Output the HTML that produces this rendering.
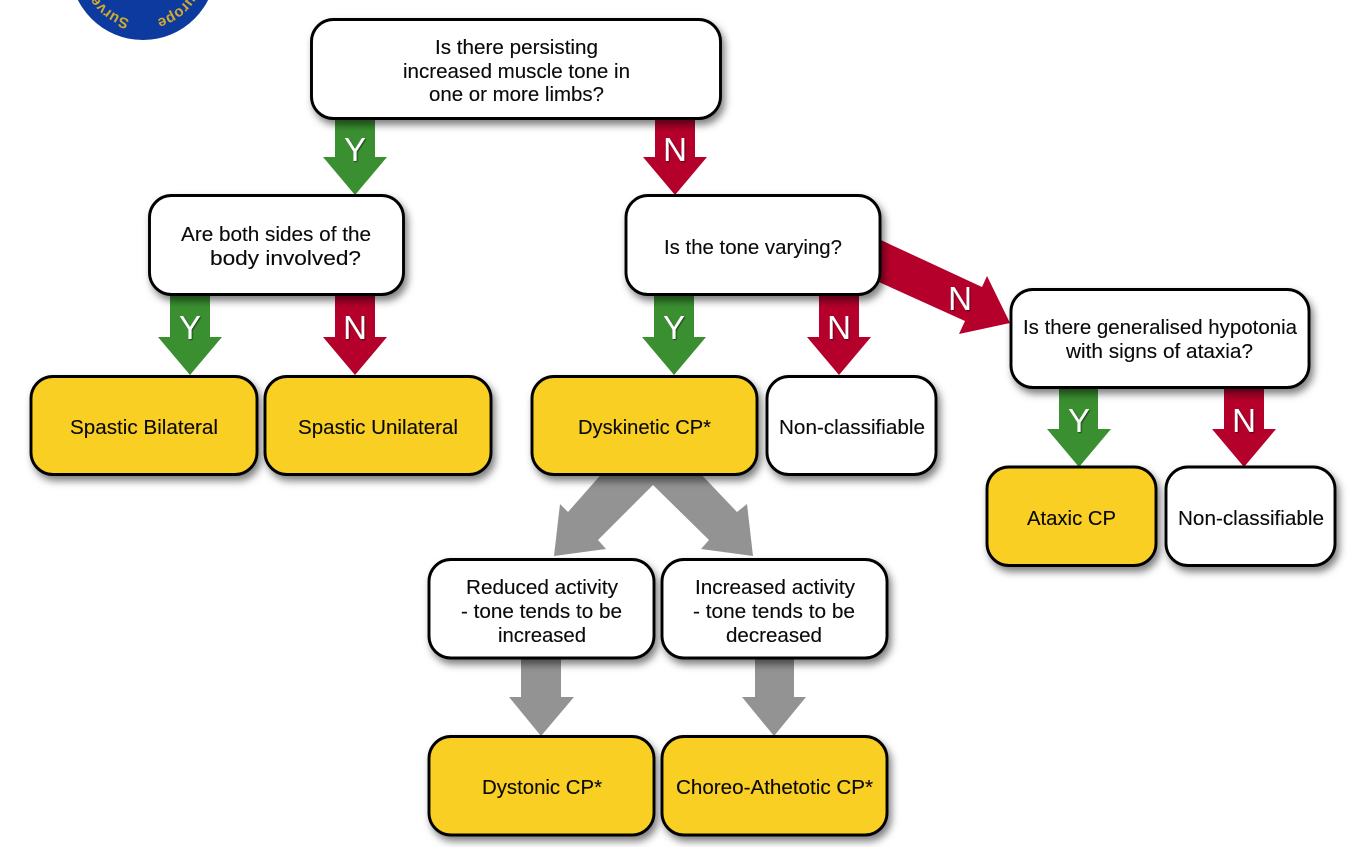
<!DOCTYPE html>
<html><head><meta charset="utf-8"><style>
html,body{margin:0;padding:0;background:#fff;width:1370px;height:847px;overflow:hidden}
svg{display:block}
.b{stroke:#000;stroke-width:2.9;filter:url(#s)}
.t{font-family:"Liberation Sans",sans-serif;font-size:20px;fill:#0a0a0a;stroke:#0a0a0a;stroke-width:.12}
.l{font-family:"Liberation Sans",sans-serif;font-size:33px;fill:#fff;text-anchor:middle;filter:url(#ts)}
.g{fill:#3a8f30}.r{fill:#b5002b}.y{fill:#f8cf20}.w{fill:#fff}.a{fill:#939393}
</style></head><body>
<svg width="1370" height="847" viewBox="0 0 1370 847" xmlns="http://www.w3.org/2000/svg">
<defs>
<filter id="s" x="-15%" y="-20%" width="130%" height="150%"><feDropShadow dx="3" dy="5" stdDeviation="4" flood-color="#000" flood-opacity=".5"/></filter>
<filter id="ts" x="-30%" y="-30%" width="160%" height="160%"><feDropShadow dx="1" dy="1" stdDeviation=".6" flood-color="#000" flood-opacity=".55"/></filter>
<path id="arc" d="M197 -33A54 54 0 0 1 89 -33"/>
</defs>

<circle cx="143" cy="-33" r="73" fill="#0c3a9e"/>
<g font-family="Liberation Sans,sans-serif" font-size="15" font-weight="bold" fill="#d0aa30">
<text><textPath href="#arc" startOffset="19">Europe</textPath></text>
<text><textPath href="#arc" startOffset="98">Surve</textPath></text>
</g>

<path class="g" d="M335 110H375V157H387L355 195L323 157H335Z"/>
<path class="r" d="M655 110H695V157H707L675 195L643 157H655Z"/>
<path class="g" d="M170 285H210V337H222L190 375L158 337H170Z"/>
<path class="r" d="M335 285H375V337H387L355 375L323 337H335Z"/>
<path class="g" d="M654 285H694V337H706L674 375L642 337H654Z"/>
<path class="r" d="M819 285H859V337H871L839 375L807 337H819Z"/>
<path class="g" d="M1059 380H1098V429H1111L1079 467L1047 429H1059Z"/>
<path class="r" d="M1224 380H1264V429H1276L1244 467L1212 429H1224Z"/>
<path class="r" d="M870 235L982 287L987 276L1010 323L959 334L965 321L870 278Z"/>
<path class="a" d="M605 470H697L737 512L747 504L753 556L701 549L709 540L653 485L598 540L606 549L554 556L560 504L568 512Z"/>
<path class="a" d="M521 650H561V697H574L541 736L509 697H521Z"/>
<path class="a" d="M755 650H794V697H806L774 736L742 697H755Z"/>

<rect class="b w" x="311.5" y="19.5" width="409" height="99" rx="22"/>
<rect class="b w" x="149.5" y="195.5" width="254" height="99" rx="22"/>
<rect class="b w" x="626" y="195.5" width="254" height="99" rx="22"/>
<rect class="b w" x="1011" y="289.5" width="298" height="98" rx="22"/>
<rect class="b y" x="31" y="376.5" width="226" height="98" rx="22"/>
<rect class="b y" x="265" y="376.5" width="226" height="98" rx="22"/>
<rect class="b y" x="532" y="376.5" width="225" height="98" rx="22"/>
<rect class="b w" x="767" y="376.5" width="169" height="98" rx="22"/>
<rect class="b y" x="987" y="467" width="169" height="98.5" rx="22"/>
<rect class="b w" x="1166" y="467" width="169" height="98.5" rx="22"/>
<rect class="b w" x="429" y="559.5" width="225" height="98.5" rx="22"/>
<rect class="b w" x="662" y="559.5" width="225" height="98.5" rx="22"/>
<rect class="b y" x="429" y="736.5" width="225" height="98.5" rx="22"/>
<rect class="b y" x="662" y="736.5" width="225" height="98.5" rx="22"/>

<text class="l" x="355" y="161">Y</text>
<text class="l" x="675" y="161">N</text>
<text class="l" x="190" y="339">Y</text>
<text class="l" x="355" y="339">N</text>
<text class="l" x="674" y="339">Y</text>
<text class="l" x="839" y="339">N</text>
<text class="l" x="960" y="310">N</text>
<text class="l" x="1079" y="432">Y</text>
<text class="l" x="1244" y="432">N</text>

<g class="t">
<text lengthAdjust="spacingAndGlyphs" x="435" y="54" textLength="163">Is there persisting</text>
<text lengthAdjust="spacingAndGlyphs" x="403" y="78" textLength="227">increased muscle tone in</text>
<text lengthAdjust="spacingAndGlyphs" x="429" y="101" textLength="175">one or more limbs?</text>
<text lengthAdjust="spacingAndGlyphs" x="181" y="241" textLength="190">Are both sides of the</text>
<text lengthAdjust="spacingAndGlyphs" x="210" y="265" textLength="151">body involved?</text>
<text lengthAdjust="spacingAndGlyphs" x="664" y="254" textLength="178">Is the tone varying?</text>
<text lengthAdjust="spacingAndGlyphs" x="1023" y="334" textLength="274">Is there generalised hypotonia</text>
<text lengthAdjust="spacingAndGlyphs" x="1066" y="358" textLength="187">with signs of ataxia?</text>
<text lengthAdjust="spacingAndGlyphs" x="70" y="434" textLength="148">Spastic Bilateral</text>
<text lengthAdjust="spacingAndGlyphs" x="298" y="434" textLength="160">Spastic Unilateral</text>
<text lengthAdjust="spacingAndGlyphs" x="578" y="434" textLength="133">Dyskinetic CP*</text>
<text lengthAdjust="spacingAndGlyphs" x="779" y="434" textLength="146">Non-classifiable</text>
<text lengthAdjust="spacingAndGlyphs" x="1027" y="525" textLength="89">Ataxic CP</text>
<text lengthAdjust="spacingAndGlyphs" x="1178" y="525" textLength="146">Non-classifiable</text>
<text lengthAdjust="spacingAndGlyphs" x="466" y="594" textLength="152">Reduced activity</text>
<text lengthAdjust="spacingAndGlyphs" x="461" y="618" textLength="161">- tone tends to be</text>
<text lengthAdjust="spacingAndGlyphs" x="498" y="642" textLength="88">increased</text>
<text lengthAdjust="spacingAndGlyphs" x="695" y="594" textLength="160">Increased activity</text>
<text lengthAdjust="spacingAndGlyphs" x="693" y="618" textLength="162">- tone tends to be</text>
<text lengthAdjust="spacingAndGlyphs" x="726" y="642" textLength="96">decreased</text>
<text lengthAdjust="spacingAndGlyphs" x="482" y="794" textLength="120">Dystonic CP*</text>
<text lengthAdjust="spacingAndGlyphs" x="676" y="794" textLength="197">Choreo-Athetotic CP*</text>
</g>
</svg>
</body></html>
